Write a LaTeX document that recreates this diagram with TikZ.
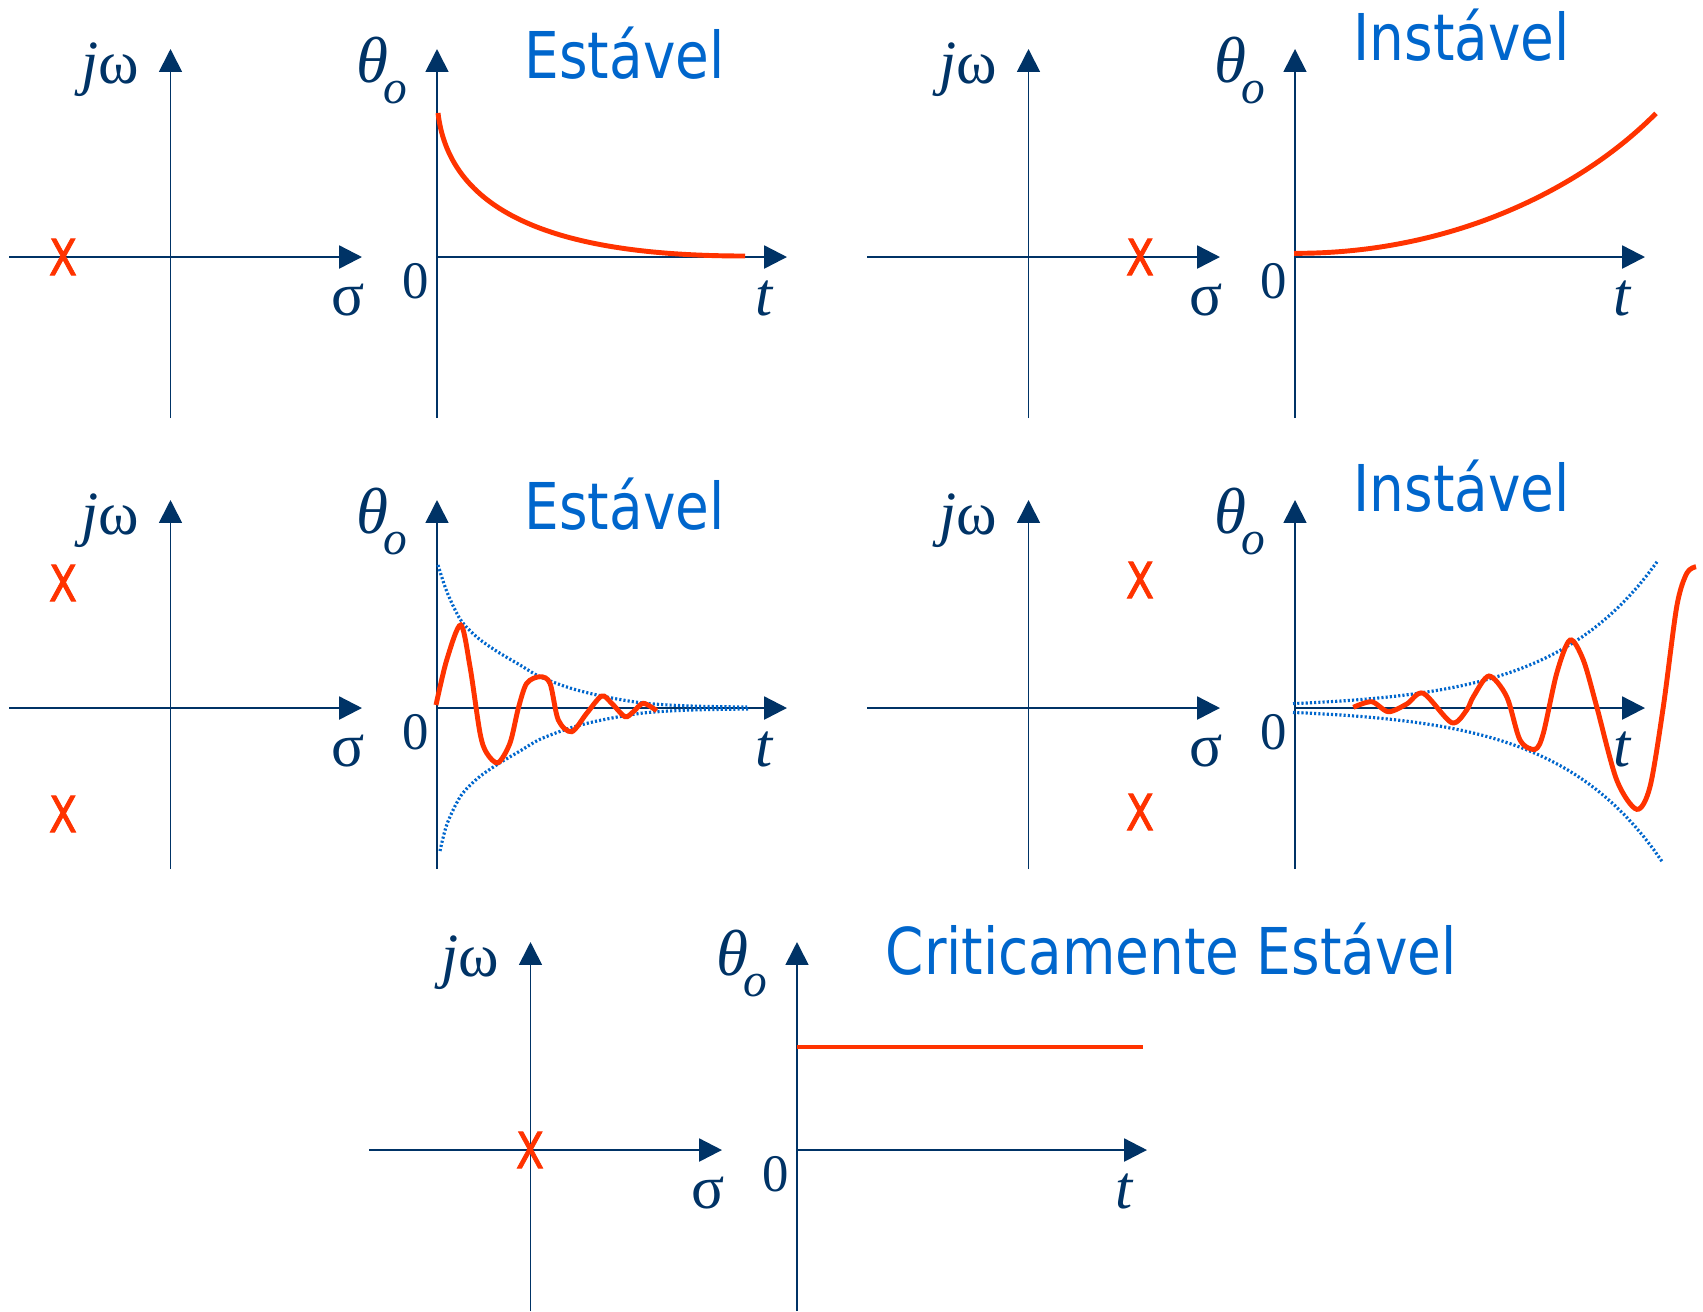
\documentclass[tikz,border=0pt]{standalone}
\usepackage{fontspec}
\setmainfont{Liberation Serif}
\newfontfamily\titlefont[FakeStretch=0.85]{DejaVu Sans}
\newfontfamily\polefont[FakeStretch=0.82, FakeBold=1.6]{DejaVu Sans}
\usetikzlibrary{arrows.meta}
\definecolor{axisblue}{RGB}{0,51,102}
\definecolor{polered}{RGB}{255,51,0}
\definecolor{titleblue}{RGB}{0,102,204}
\tikzset{
  axis/.style={axisblue, line width=0.5pt, -{Triangle[length=6.5pt,width=6.5pt]}},
  haxis/.style={axis, line width=0.7pt},
  resp/.style={polered, line width=1.4pt},
  env/.style={titleblue, line width=0.9pt, dash pattern=on 0.6pt off 0.6pt},
  lbl/.style={text=axisblue, font=\fontsize{17.5}{20}\selectfont, inner sep=0pt, anchor=base},
  zerolbl/.style={text=axisblue, font=\fontsize{15}{18}\selectfont, inner sep=0pt, anchor=base},
  pole/.style={text=polered, font=\polefont\fontsize{14.2}{16}\selectfont, inner sep=0pt},
  title/.style={text=titleblue, font=\titlefont\fontsize{18.35}{22}\selectfont, inner sep=0pt, anchor=base west}
}
\begin{document}
\begin{tikzpicture}[x=0.01cm, y=-0.01cm]
\useasboundingbox (0,0) rectangle (1703,1311);
% Axes of the five panels (s-plane and time response)
\foreach \n/\dx/\dy in {a/0/0, b/858/0, c/0/451, d/858/451, e/360/893} {
  \begin{scope}[shift={(\dx,\dy)}]
    \draw[haxis] (9,257) -- (362,257);
    \draw[axis] (170.5,418) -- (170.5,49);
    \node[lbl] (jw-\n) at (110,83) {{\itshape j}ω};
    \node[lbl] (sig-\n) at (348,315) {σ};
    \draw[haxis] (437,257) -- (787,257);
    \draw[axis] (437,418) -- (437,49);
    \node[lbl] (th-\n) at (382,82) {{\fontsize{18.5}{20}\selectfont\itshape θ\kern-1.5pt\raisebox{-6pt}{\fontsize{13.5}{16}\selectfont o}}};
    \node[zerolbl] (zero-\n) at (416,298) {0};
    \node[lbl] (t-\n) at (764,315) {{\itshape t}};
  \end{scope}
}
% Poles
\node[pole] (p-a) at (63,257) {X};
\node[pole] (p-b) at (1140,257) {X};
\node[pole] (p-c1) at (63,583) {X};
\node[pole] (p-c2) at (63,814) {X};
\node[pole] (p-d1) at (1140,580) {X};
\node[pole] (p-d2) at (1140,812) {X};
\node[pole] (p-e) at (530,1150) {X};
% Titles
\node[title] (tit-a) at (524,78) {Estável};
\node[title] (tit-b) at (1353,60) {Instável};
\node[title] (tit-c) at (524,529) {Estável};
\node[title] (tit-d) at (1353,511) {Instável};
\node[title] (tit-e) at (885,974) {Criticamente Estável};
% Responses
\draw[resp] (438,113) .. controls (450,215) and (560,256) .. (745,256);
\draw[resp] (1294,253.3) .. controls (1450,254) and (1580,190) .. (1656,113.3);
% decaying oscillation with envelope
\draw[env] plot[smooth] coordinates {(438,565) (447,592) (460.7,620) (478,638) (498,652) (520,665) (540,676.7) (570,688) (601.7,696) (643,703) (690,706) (747,707)};
\draw[env] plot[smooth] coordinates {(440,851) (447,824) (460.7,796) (478,778) (498,764) (520,751) (540,739.3) (570,728) (601.7,720) (643,713) (690,710) (750,709)};
\draw[resp] plot[smooth] coordinates {(436,705) (446.7,660) (460.7,625) (470,666.7) (480,733) (486.7,753) (498,762.7) (510,743) (518.3,708.3) (526.7,683.3) (540,676.7) (550,683.3) (558.3,720) (571.7,731.7) (586.7,713.3) (601.7,696) (611.7,703.3) (625,716.7) (633.3,711.7) (643.3,703.3) (656.7,710.7)};
% growing oscillation with envelope
\draw[env, domain=-2:362, samples=40] plot (1295+\x, {708-4.5*exp(\x/104)});
\draw[env, domain=-2:368, samples=40] plot (1295+\x, {708+4.5*exp(\x/104)});
\draw[resp] plot[smooth] coordinates {(1353.3,707.3) (1371.7,701.7) (1388.3,711.7) (1406.7,704) (1423.3,693.3) (1451.7,722.7) (1466.7,710) (1473.3,696.7) (1489,676) (1506.7,696.7) (1520,740) (1535,749.3) (1543.3,733.3) (1556.7,673.3) (1570,640) (1583.3,660) (1596.7,706.7) (1616.7,780) (1636.7,809.3) (1650,786.7) (1663.3,706.7) (1676.7,606.7) (1686.7,573.3) (1696,566.7)};
% constant response
\draw[resp] (797,1047) -- (1142.5,1047);
\end{tikzpicture}
\end{document}
